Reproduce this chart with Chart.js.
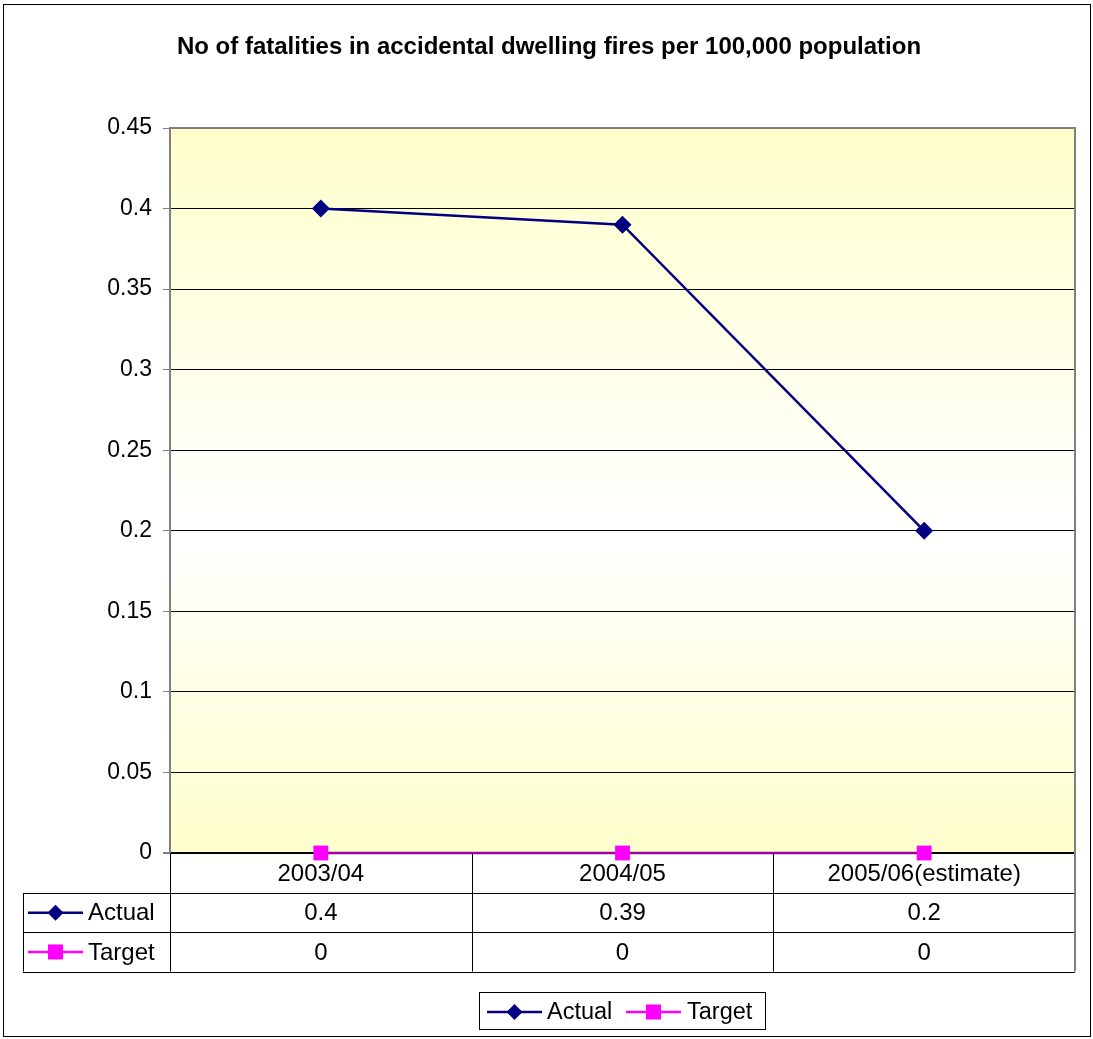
<!DOCTYPE html>
<html>
<head>
<meta charset="utf-8">
<script src="https://cdn.jsdelivr.net/npm/chart.js@4/dist/chart.umd.min.js"></script>
<style>
  html, body { margin: 0; padding: 0; background: #fff; }
  #wrap { position: relative; width: 1093px; height: 1039px; }
</style>
</head>
<body>
<div id="wrap"><canvas id="chart"></canvas></div>
<script>
/* fatalities chart, Excel-style with data table */
const TITLE = 'No of fatalities in accidental dwelling fires per 100,000 population';
const categories = ['2003/04', '2004/05', '2005/06(estimate)'];
const actual = [0.4, 0.39, 0.2];
const target = [0, 0, 0];
const seriesNames = ['Actual', 'Target'];

const FONT = '"Liberation Sans", Arial, sans-serif';
const TXT = 23;
const TABLE_TXT = 24;
const NAVY = '#000080';
const MAGENTA = '#FF00FF';

function drawKey(ctx, x, y, color, style) {
    ctx.save();
    ctx.strokeStyle = color;
    ctx.lineWidth = 2.5;
    ctx.beginPath();
    ctx.moveTo(x, y);
    ctx.lineTo(x + 55, y);
    ctx.stroke();
    ctx.fillStyle = color;
    const cx = x + 27.5;
    if (style === 'rectRot') {
        ctx.beginPath();
        ctx.moveTo(cx, y - 8);
        ctx.lineTo(cx + 8, y);
        ctx.lineTo(cx, y + 8);
        ctx.lineTo(cx - 8, y);
        ctx.closePath();
        ctx.fill();
    } else {
        ctx.fillRect(cx - 7.5, y - 7.5, 15, 15);
    }
    ctx.restore();
}

const excelPlugin = {
    id: 'excel',
    beforeDraw(chart) {
        const { ctx, chartArea: a } = chart;
        const g = ctx.createLinearGradient(0, a.top, 0, a.bottom);
        g.addColorStop(0, '#FFFFCC');
        g.addColorStop(0.56, '#FFFFFF');
        g.addColorStop(1, '#FFFFCC');
        ctx.save();
        ctx.fillStyle = g;
        ctx.fillRect(a.left, a.top, a.right - a.left, a.bottom - a.top);
        ctx.restore();
    },
    afterDraw(chart) {
        const { ctx, chartArea: a } = chart;
        const x = chart.scales.x;
        const half = (x.getPixelForValue(1) - x.getPixelForValue(0)) / 2;
        ctx.save();

        // plot border top/right
        ctx.strokeStyle = '#808080';
        ctx.lineWidth = 2;
        ctx.beginPath();
        ctx.moveTo(a.left, a.top);
        ctx.lineTo(a.right, a.top);
        ctx.lineTo(a.right, a.bottom);
        ctx.stroke();

        // title
        ctx.fillStyle = '#000';
        ctx.font = 'bold 24px ' + FONT;
        ctx.textAlign = 'center';
        ctx.textBaseline = 'middle';
        ctx.fillText(TITLE, 549, 47);

        // data table
        const rowH = 39.3;
        const t0 = a.bottom;
        const t1 = t0 + 40, t2 = t1 + rowH, t3 = t2 + rowH;
        const tableLeft = 23;
        ctx.strokeStyle = '#000';
        ctx.lineWidth = 1;
        ctx.beginPath();
        [t1, t2, t3].forEach(y => {
            ctx.moveTo(tableLeft, Math.round(y) + 0.5);
            ctx.lineTo(a.right, Math.round(y) + 0.5);
        });
        ctx.moveTo(tableLeft + 0.5, t1);
        ctx.lineTo(tableLeft + 0.5, t3);
        categories.forEach((c, i) => {
            const bx = Math.round(x.getPixelForValue(i) - half) + 0.5;
            ctx.moveTo(bx, t0);
            ctx.lineTo(bx, t3);
        });
        ctx.stroke();
        ctx.strokeStyle = '#808080';
        ctx.lineWidth = 2;
        ctx.beginPath();
        ctx.moveTo(a.right, t0);
        ctx.lineTo(a.right, t3);
        ctx.stroke();

        ctx.font = TABLE_TXT + 'px ' + FONT;
        ctx.fillStyle = '#000';
        ctx.textAlign = 'center';
        const rows = [actual, target];
        categories.forEach((c, i) => {
            const cx = x.getPixelForValue(i);
            ctx.fillText(c, cx, (t0 + t1) / 2 + 1);
            rows.forEach((r, j) => {
                const ry = j === 0 ? (t1 + t2) / 2 : (t2 + t3) / 2;
                ctx.fillText(String(r[i]), cx, ry + 1);
            });
        });
        ctx.textAlign = 'left';
        drawKey(ctx, 28, (t1 + t2) / 2, NAVY, 'rectRot');
        ctx.fillText(seriesNames[0], 88, (t1 + t2) / 2 + 1);
        drawKey(ctx, 28, (t2 + t3) / 2, MAGENTA, 'rect');
        ctx.fillText(seriesNames[1], 88, (t2 + t3) / 2 + 1);

        // legend box
        ctx.font = (TXT + 0.5) + 'px ' + FONT;
        ctx.strokeStyle = '#000';
        ctx.lineWidth = 1;
        ctx.strokeRect(479.5, 992.5, 286, 37);
        drawKey(ctx, 487, 1012, NAVY, 'rectRot');
        ctx.fillText(seriesNames[0], 547, 1013);
        drawKey(ctx, 626, 1012, MAGENTA, 'rect');
        ctx.fillText(seriesNames[1], 687, 1013);

        // outer frame
        ctx.strokeStyle = '#000';
        ctx.lineWidth = 1;
        ctx.strokeRect(3.5, 4.5, 1087, 1032);
        ctx.restore();
    }
};

new Chart(document.getElementById('chart'), {
    type: 'line',
    data: {
        labels: categories,
        datasets: [
            {
                label: seriesNames[0],
                data: actual,
                borderColor: NAVY,
                backgroundColor: NAVY,
                borderWidth: 2.5,
                pointStyle: 'rectRot',
                pointRadius: 9,
                pointBorderWidth: 0,
                tension: 0,
                clip: false,
            },
            {
                label: seriesNames[1],
                data: target,
                borderColor: '#A000A0',
                backgroundColor: MAGENTA,
                borderWidth: 2.5,
                pointStyle: 'rect',
                pointRadius: 10.5,
                pointBorderWidth: 0,
                tension: 0,
                clip: false,
            },
        ],
    },
    plugins: [excelPlugin],
    options: {
        responsive: true,
        maintainAspectRatio: false,
        animation: false,
        events: [],
        layout: { padding: { top: 128, bottom: 186, left: 0, right: 18 } },
        plugins: {
            legend: { display: false },
            title: { display: false },
            tooltip: { enabled: false },
        },
        scales: {
            x: {
                display: false,
                offset: true,
            },
            y: {
                min: 0,
                max: 0.45,
                ticks: {
                    stepSize: 0.05,
                    color: '#000',
                    font: { family: FONT, size: TXT },
                    padding: 11,
                    callback: v => String(+v.toFixed(2)),
                },
                grid: {
                    color: c => c.tick && c.tick.value === 0 ? '#000' : (c.index === 9 ? '#808080' : '#000'),
                    lineWidth: c => c.tick && c.tick.value === 0 ? 2 : 1,
                    tickColor: '#808080',
                    tickLength: 7,
                },
                border: { color: '#808080', width: 2 },
                afterFit: s => { s.width = 170; },
            },
        },
    },
});
</script>
</body>
</html>
